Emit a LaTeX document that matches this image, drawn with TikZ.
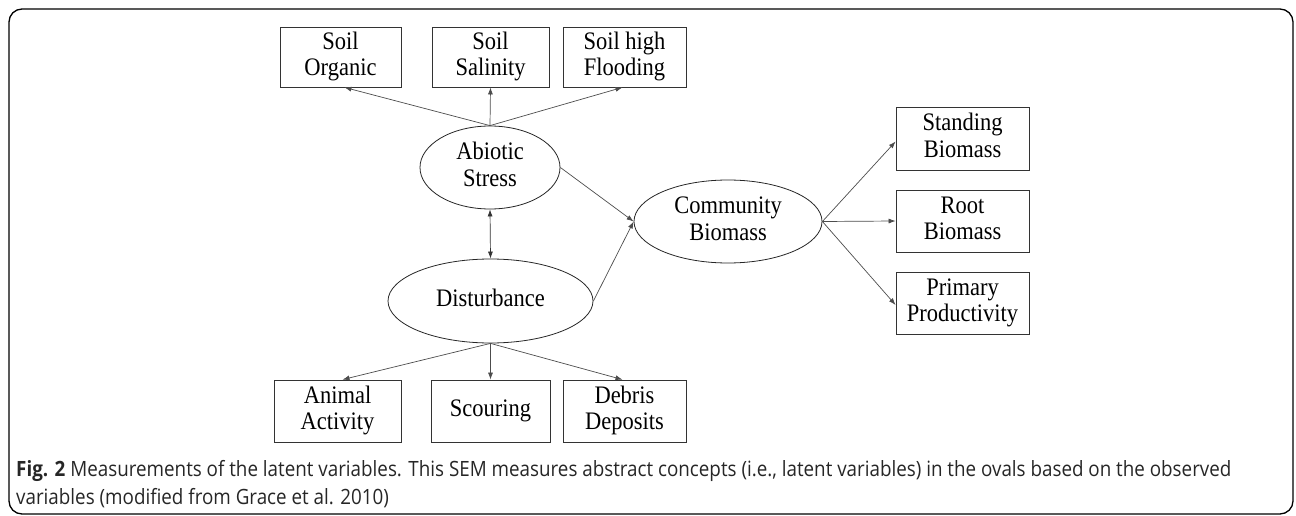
\documentclass[tikz,border=0pt]{standalone}
\usepackage{fontspec}
\usepackage{graphicx}
\setmainfont{Liberation Serif}
\newfontfamily\capfont{Open Sans}
\usetikzlibrary{shapes.geometric,arrows.meta,calc}
\newcommand\vtxt[1]{\scalebox{1}[1.12]{\begin{tabular}{@{}c@{}}#1\end{tabular}}}
\newcommand\vcap[1]{\scalebox{1}[1.12]{#1}}
\tikzset{
  obs/.style={draw=black!80, line width=0.8pt, inner sep=0pt, align=center,
    font=\fontsize{22.5}{23.8}\selectfont},
  lat/.style={ellipse, draw=black!85, line width=0.8pt, inner sep=0pt, align=center,
    font=\fontsize{22.5}{23.8}\selectfont},
  conn/.style={draw=black!70, line width=0.7pt, -{Latex[length=7pt,width=5pt]}},
  dconn/.style={draw=black!80, line width=0.7pt, {Latex[length=7pt,width=5pt]}-{Latex[length=7pt,width=5pt]}},
  captext/.style={anchor=base west, inner sep=0pt, font=\capfont\fontsize{18.8}{22}\selectfont, text=black!85}
}
\begin{document}
\begin{tikzpicture}[x=1pt,y=-1pt]
\useasboundingbox (0,0) rectangle (1296,516);
\draw[line width=1.3pt, rounded corners=13pt] (9,9) rectangle (1293,514);
% observed top
\node[obs, minimum width=121pt, minimum height=60pt] (so) at (340.5,57) {\vtxt{Soil\\Organic}};
\node[obs, minimum width=117pt, minimum height=60pt] (ss) at (490.5,57) {\vtxt{Soil\\Salinity}};
\node[obs, minimum width=123pt, minimum height=60pt] (sf) at (624.5,57) {\vtxt{Soil high\\Flooding}};
% latent
\node[lat, minimum width=140pt, minimum height=83pt] (ab) at (490,167.5) {\vtxt{Abiotic\\Stress}};
\node[lat, minimum width=205pt, minimum height=84pt] (di) at (490.5,301) {\vtxt{Disturbance}};
\node[lat, minimum width=188pt, minimum height=83pt] (cb) at (728,221.5) {\vtxt{Community\\Biomass}};
% right
\node[obs, minimum width=133pt, minimum height=63pt] (sb) at (962.5,138.5) {\vtxt{Standing\\Biomass}};
\node[obs, minimum width=133pt, minimum height=62pt] (rb) at (962.5,221) {\vtxt{Root\\Biomass}};
\node[obs, minimum width=133pt, minimum height=62pt] (pp) at (962.5,303) {\vtxt{Primary\\Productivity}};
% bottom
\node[obs, minimum width=127pt, minimum height=62pt] (aa) at (337.5,411) {\vtxt{Animal\\Activity}};
\node[obs, minimum width=119pt, minimum height=62pt] (sc) at (490.5,411) {\vtxt{Scouring}};
\node[obs, minimum width=123pt, minimum height=62pt] (dd) at (624.5,411) {\vtxt{Debris\\Deposits}};
% connectors
\draw[conn] (ab.north) -- ($(so.south)+(4,0)$);
\draw[conn] (ab.north) -- (ss.south);
\draw[conn] (ab.north) -- ($(sf.south)+(-2,0)$);
\draw[dconn] (ab.south) -- (di.north);
\draw[conn] (ab.east) -- (cb.west);
\draw[conn] (di.east) -- (cb.west);
\draw[conn] (cb.east) -- ($(sb.west)+(0,3)$);
\draw[conn] (cb.east) -- (rb.west);
\draw[conn] (cb.east) -- ($(pp.west)+(0,2)$);
\draw[conn] (di.south) -- ($(aa.north)+(5,0)$);
\draw[conn] (di.south) -- (sc.north);
\draw[conn] (di.south) -- ($(dd.north)+(-2,0)$);
% caption
\node[captext] (c1) at (16,476) {\vcap{\textbf{Fig. 2} Measurements of the latent variables. This SEM measures abstract concepts (i.e., latent variables) in the ovals based on the observed}};
\node[captext] (c2) at (16,504) {\vcap{variables (modified from Grace et al. 2010)}};
\end{tikzpicture}
\end{document}
